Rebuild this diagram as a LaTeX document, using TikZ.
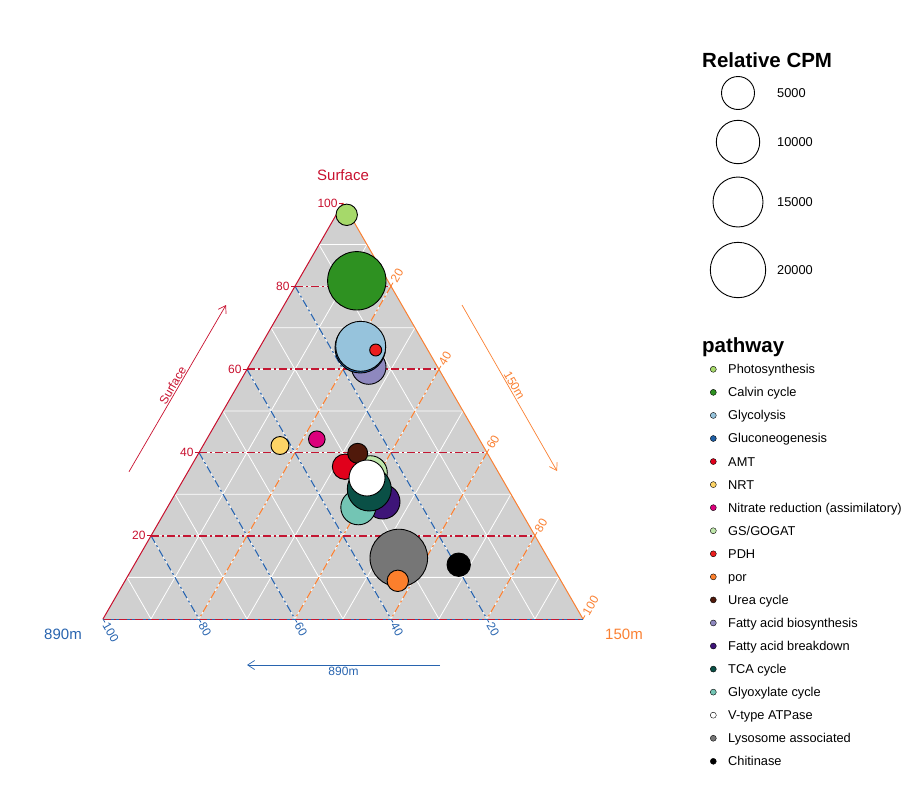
\documentclass[tikz,border=0pt]{standalone}
\usepackage{fontspec}
\setmainfont{Liberation Sans}
\usetikzlibrary{arrows.meta}
\definecolor{axred}{RGB}{200,16,46}
\definecolor{lnred}{RGB}{196,22,50}
\definecolor{axblue}{RGB}{40,100,175}
\definecolor{axorange}{RGB}{250,128,50}
\definecolor{terngray}{RGB}{208,208,208}
\definecolor{cPhoto}{RGB}{166,217,106}
\definecolor{cCalvin}{RGB}{46,145,33}
\definecolor{cGlyco}{RGB}{150,195,220}
\definecolor{cGluco}{RGB}{31,95,165}
\definecolor{cAMT}{RGB}{224,0,27}
\definecolor{cNRT}{RGB}{253,212,102}
\definecolor{cNitrate}{RGB}{220,0,124}
\definecolor{cGS}{RGB}{190,230,170}
\definecolor{cPDH}{RGB}{235,30,30}
\definecolor{cPor}{RGB}{252,127,44}
\definecolor{cUrea}{RGB}{80,25,10}
\definecolor{cFAbio}{RGB}{142,136,190}
\definecolor{cFAbrk}{RGB}{62,20,120}
\definecolor{cTCA}{RGB}{10,80,70}
\definecolor{cGlyox}{RGB}{115,197,180}
\definecolor{cLyso}{RGB}{118,118,118}

\begin{document}
\begin{tikzpicture}[x=1pt,y=-1pt,
 bub/.style={circle,draw=black,line width=0.9pt,inner sep=0pt},
 keydot/.style={circle,draw=black,line width=0.4pt,inner sep=0pt,minimum size=6pt},
 sizekey/.style={circle,draw=black,line width=0.9pt,fill=white,inner sep=0pt},
 ticklab/.style={font=\fontsize{12}{14}\selectfont,inner sep=1pt},
 keytxt/.style={font=\fontsize{12.8}{15}\selectfont,anchor=base west,inner sep=0pt},
 keyhead/.style={font=\fontsize{20.5}{24}\selectfont\bfseries,anchor=base west,inner sep=0pt},
 corner/.style={font=\fontsize{15}{18}\selectfont},
 dashdot/.style={line width=1.1pt,dash pattern=on 8pt off 3pt on 2pt off 3pt},
 reddash/.style={color=lnred,line width=1.4pt,dash pattern=on 8pt off 3pt on 2pt off 3pt},
 gridw/.style={white,line width=0.8pt},
 barb/.style={-{Straight Barb[length=7pt,width=9pt]}}]
 \useasboundingbox (0,0) rectangle (917,800);
 \coordinate (S) at (343,203);
 \coordinate (B) at (103,619);
 \coordinate (O) at (583,619);
 % ternary area and grid
 \fill[terngray] (S) -- (B) -- (O) -- cycle;
 \foreach \i/\j in {1/9,2/8,3/7,4/6,5/5,6/4,7/3,8/2,9/1}
  \draw[gridw] (barycentric cs:S=\i,B=\j) -- (barycentric cs:S=\i,O=\j)
   (barycentric cs:B=\i,S=\j) -- (barycentric cs:B=\i,O=\j)
   (barycentric cs:O=\i,S=\j) -- (barycentric cs:O=\i,B=\j);
 \foreach \i/\j in {2/8,4/6,6/4,8/2}
  \draw[dashdot,draw=axblue] (barycentric cs:B=\i,S=\j) -- (barycentric cs:B=\i,O=\j);
 \foreach \i/\j in {2/8,4/6,6/4,8/2}
  \draw[dashdot,draw=axorange] (barycentric cs:O=\i,S=\j) -- (barycentric cs:O=\i,B=\j);
 % surface lines
 \draw[reddash] (151,536) -- (535,536);
 \draw[reddash] (199,452.6) -- (487,452.6);
 \draw[reddash] (247,369) -- (439,369);
 \draw[reddash] (295,286.2) -- (391,286.2);
 \draw[axred,line width=1pt] (S) -- (B);
 \draw[axorange,line width=1pt] (S) -- (O);
 \draw[axblue,line width=1pt] (B) -- (O);
 \draw[reddash,line width=0.7pt] (B) -- (O);
 % ticks
 \foreach \v/\p/\q in {20/2/8,40/4/6,60/6/4,80/8/2,100/10/0} {
  \draw[axred,line width=0.8pt] (barycentric cs:S=\p,B=\q) -- ++(-4,0)
   node[ticklab,anchor=east,text=axred] (s\v) {\v};
  \draw[axblue,line width=0.8pt] (barycentric cs:B=\p,O=\q) -- ++(2,3.46)
   node[ticklab,anchor=west,rotate=-60,text=axblue] (b\v) {\v};
  \draw[axorange,line width=0.8pt] (barycentric cs:O=\p,S=\q) -- ++(2,-3.46)
   node[ticklab,anchor=west,rotate=60,text=axorange] (o\v) {\v};
 }
 \node[corner,text=axred] (tsurf) at (343,175) {Surface};
 \node[corner,text=axblue] (tdeep) at (63,634) {890m};
 \node[corner,text=axorange] (tmid) at (624,634) {150m};
 % axis arrows
 \coordinate (sa) at (129,471.7);
 \coordinate (sb) at (226,305);
 \coordinate (oa) at (462,305);
 \coordinate (ob) at (557,471);
 \coordinate (ba) at (440,665);
 \coordinate (bb) at (247,665);
 \draw[axred,line width=0.7pt,barb] (sa) -- node[ticklab,sloped,above,text=axred] (sarr) {Surface} (sb);
 \draw[axorange,line width=0.7pt,barb] (oa) -- node[ticklab,sloped,above,text=axorange] (oarr) {150m} (ob);
 \draw[axblue,line width=0.7pt,barb] (ba) -- node[ticklab,below,inner sep=2pt,text=axblue] (barr) {890m} (bb);
 % bubbles
 \node[bub,fill=cFAbio,minimum size=34.6pt] (fabio) at (368.7,367) {};
 \node[bub,fill=cGluco,minimum size=50.6pt] (gluco) at (360.3,347.7) {};
 \node[bub,fill=cGlyco,minimum size=50pt] (glyco) at (360.7,346.3) {};
 \node[bub,fill=cPDH,minimum size=12pt] (pdh) at (375.7,350) {};
 \node[bub,fill=cPhoto,minimum size=21.4pt] (photo) at (346.7,214.8) {};
 \node[bub,fill=cCalvin,minimum size=58.4pt] (calvin) at (356.8,280.8) {};
 \node[bub,fill=cNRT,minimum size=18pt] (nrt) at (280,445.5) {};
 \node[bub,fill=cNitrate,minimum size=16.6pt] (nitrate) at (316.8,439.2) {};
 \node[bub,fill=cAMT,minimum size=25.4pt] (amt) at (345,466.7) {};
 \node[bub,fill=cGS,minimum size=34pt] (gsgogat) at (370.3,472.7) {};
 \node[bub,fill=cUrea,minimum size=20pt] (urea) at (357.7,453.3) {};
 \node[bub,fill=cFAbrk,minimum size=34.6pt] (fabrk) at (382.7,501.7) {};
 \node[bub,fill=cGlyox,minimum size=35pt] (glyox) at (358.3,507.3) {};
 \node[bub,fill=cTCA,minimum size=44pt] (tca) at (369.3,489) {};
 \node[bub,fill=white,minimum size=36pt] (vatp) at (367,478) {};
 \node[bub,fill=cLyso,minimum size=57.6pt] (lyso) at (398.8,558) {};
 \node[bub,fill=cPor,minimum size=21.4pt] (por) at (397.8,580.8) {};
 \node[bub,fill=black,minimum size=23.4pt] (chit) at (458.7,564.7) {};
 % size legend
 \node[keyhead] (cpmhead) at (702,67) {Relative CPM};
 \node[sizekey,minimum size=33pt] (k5) at (738,93) {};
 \node[sizekey,minimum size=43.4pt] (k10) at (738,142) {};
 \node[sizekey,minimum size=50pt] (k15) at (738,202) {};
 \node[sizekey,minimum size=55.4pt] (k20) at (738,270) {};
 \node[keytxt] (k5t) at (777,97.5) {5000};
 \node[keytxt] (k10t) at (777,146.5) {10000};
 \node[keytxt] (k15t) at (777,206.5) {15000};
 \node[keytxt] (k20t) at (777,274.5) {20000};
 % pathway legend
 \node[keyhead] (pathhead) at (702,352.7) {pathway};
 \foreach \c/\t [count=\k from 0] in {cPhoto/Photosynthesis,cCalvin/Calvin cycle,
   cGlyco/Glycolysis,cGluco/Gluconeogenesis,cAMT/AMT,cNRT/NRT,
   cNitrate/Nitrate reduction (assimilatory),cGS/{GS/GOGAT},cPDH/PDH,cPor/por,
   cUrea/Urea cycle,cFAbio/Fatty acid biosynthesis,cFAbrk/Fatty acid breakdown,
   cTCA/TCA cycle,cGlyox/Glyoxylate cycle,white/V-type ATPase,
   cLyso/Lysosome associated,black/Chitinase} {
  \node[keydot,fill=\c] (dot\k) at (713.3,369.3+23.06*\k) {};
  \node[keytxt] (lab\k) at (728,373.8+23.06*\k) {\t};
 }
\end{tikzpicture}
\end{document}
